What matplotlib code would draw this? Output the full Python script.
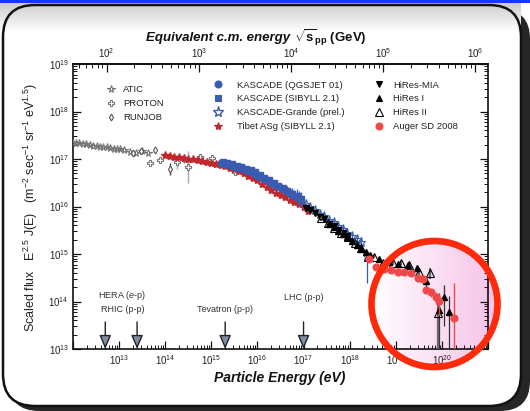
import numpy as np
import matplotlib
matplotlib.use("Agg")
import matplotlib.pyplot as plt
from matplotlib.patches import Circle, FancyBboxPatch, Rectangle
from matplotlib.lines import Line2D
from matplotlib.legend import Legend
from matplotlib.ticker import LogLocator, FuncFormatter, NullFormatter

plt.rcParams['font.family'] = ['Liberation Sans', 'DejaVu Sans']
plt.rcParams['mathtext.fontset'] = 'custom'
plt.rcParams['mathtext.rm'] = 'Liberation Sans'
plt.rcParams['mathtext.it'] = 'Liberation Sans:italic'
plt.rcParams['mathtext.bf'] = 'Liberation Sans:bold'
plt.rcParams['mathtext.default'] = 'regular'

# ---------------- data (log10 E [eV], log10 E^2.5 J(E)) ----------------
atic_logE = [12.00, 12.07, 12.14, 12.22, 12.29, 12.36, 12.44, 12.51, 12.58, 12.66,
             12.73, 12.80, 12.88, 12.95, 13.03, 13.10, 13.24, 13.37, 13.50, 13.63]
atic_logF = [17.34, 17.33, 17.33, 17.31, 17.31, 17.29, 17.28, 17.28, 17.26, 17.25,
             17.25, 17.23, 17.22, 17.22, 17.21, 17.19, 17.15, 17.13, 17.16, 17.13]

proton_logE = [13.67, 13.89, 14.26, 14.50, 14.76, 15.02, 15.52]
proton_logF = [16.92, 16.98, 16.94, 16.83, 17.04, 17.02, 16.73]
proton_err = [0.06, 0.05, 0.14, 0.33, 0.04, 0.04, 0.04]

runjob_logE = [13.30, 13.48, 13.78, 14.11, 14.40]
runjob_logF = [17.13, 17.17, 17.19, 16.79, 16.99]
runjob_err = [0.03, 0.03, 0.04, 0.12, 0.05]

tibet_logE = [14.0, 14.1, 14.2, 14.3, 14.4, 14.5, 14.6, 14.7, 14.8, 14.9, 15.0,
              15.1, 15.2, 15.3, 15.4, 15.5, 15.6, 15.7, 15.8, 15.9, 16.0, 16.1,
              16.2, 16.3, 16.4, 16.5, 16.6, 16.7, 16.8, 16.9, 17.0, 17.1]
tibet_logF = [17.08, 17.07, 17.05, 17.04, 17.03, 17.01, 16.99, 16.98, 16.96, 16.94, 16.92,
              16.89, 16.87, 16.85, 16.81, 16.78, 16.74, 16.70, 16.65, 16.60, 16.55, 16.48,
              16.41, 16.35, 16.29, 16.24, 16.19, 16.14, 16.09, 16.05, 16.00, 15.91]

kq_logE = [15.2, 15.3, 15.4, 15.5, 15.6, 15.7, 15.8, 15.9, 16.0, 16.1, 16.2, 16.3,
           16.4, 16.5, 16.6, 16.7, 16.8, 16.9]
kq_logF = [16.92, 16.90, 16.87, 16.84, 16.81, 16.78, 16.74, 16.70, 16.65, 16.60, 16.55, 16.49,
           16.44, 16.39, 16.34, 16.28, 16.23, 16.18]
kq_err = [0.02, 0.02, 0.02, 0.02, 0.02, 0.02, 0.03, 0.03, 0.03, 0.04, 0.04, 0.05,
          0.06, 0.07, 0.08, 0.10, 0.12, 0.15]

ks_logE = [15.25, 15.35, 15.45, 15.55, 15.65, 15.75, 15.85, 15.95, 16.05, 16.15, 16.25, 16.35,
           16.45, 16.55, 16.65, 16.75, 16.85, 16.95]
ks_logF = [16.94, 16.92, 16.89, 16.86, 16.83, 16.79, 16.76, 16.72, 16.66, 16.60, 16.55, 16.49,
           16.43, 16.38, 16.33, 16.27, 16.22, 16.15]
ks_err = [0.02, 0.02, 0.02, 0.02, 0.02, 0.03, 0.03, 0.03, 0.04, 0.04, 0.05, 0.05,
          0.06, 0.08, 0.10, 0.12, 0.14, 0.16]

grande_logE = [16.95, 17.05, 17.15, 17.25, 17.35, 17.45, 17.55, 17.65, 17.75, 17.85,
               17.95, 18.05, 18.15, 18.25, 18.38]
grande_logF = [16.10, 16.05, 15.98, 15.92, 15.85, 15.80, 15.72, 15.67, 15.59, 15.53,
               15.45, 15.37, 15.31, 15.25, 14.96]
grande_err_up = [0.03, 0.03, 0.03, 0.03, 0.03, 0.04, 0.04, 0.04, 0.05, 0.05,
                 0.06, 0.07, 0.08, 0.10, 0.05]
grande_err_dn = [0.03, 0.03, 0.03, 0.03, 0.03, 0.04, 0.04, 0.04, 0.05, 0.05,
                 0.06, 0.07, 0.08, 0.10, 0.58]

mia_logE = [17.05, 17.15, 17.25, 17.35, 17.45, 17.55, 17.65, 17.75, 17.85, 17.95]
mia_logF = [15.97, 15.92, 15.87, 15.78, 15.73, 15.64, 15.59, 15.50, 15.45, 15.37]

hires1_logE = [17.55, 17.65, 17.75, 17.85, 17.95, 18.05, 18.15, 18.25, 18.35, 18.45,
               18.63, 18.85, 19.05, 19.26, 19.45, 19.65, 19.93, 20.04, 20.15]
hires1_logF = [15.63, 15.57, 15.49, 15.43, 15.35, 15.27, 15.18, 15.11, 15.04, 14.97,
               14.89, 14.84, 14.80, 14.77, 14.70, 14.43, 13.82, 14.09, 13.77]
hires1_err_up = [0.02, 0.02, 0.02, 0.02, 0.02, 0.02, 0.02, 0.02, 0.03, 0.03,
                 0.03, 0.03, 0.04, 0.05, 0.06, 0.10, 0.35, 0.25, 0.35]
hires1_err_dn = [0.02, 0.02, 0.02, 0.02, 0.02, 0.02, 0.02, 0.02, 0.03, 0.03,
                 0.03, 0.03, 0.04, 0.05, 0.06, 0.12, 0.90, 0.60, 0.90]

hires2_logE = [17.37, 17.52, 17.67, 17.82, 17.97, 18.12, 18.25, 18.39, 18.52, 18.72,
               18.93, 19.11, 19.28, 19.50, 19.74, 19.91]
hires2_logF = [15.76, 15.66, 15.55, 15.45, 15.36, 15.24, 15.12, 14.94, 14.94, 14.81,
               14.81, 14.81, 14.77, 14.62, 14.60, 13.76]
hires2_err_up = [0.03, 0.03, 0.03, 0.03, 0.03, 0.03, 0.03, 0.03, 0.03, 0.03,
                 0.04, 0.04, 0.05, 0.07, 0.10, 0.40]
hires2_err_dn = [0.03, 0.03, 0.03, 0.03, 0.03, 0.03, 0.03, 0.03, 0.03, 0.03,
                 0.04, 0.04, 0.05, 0.07, 0.12, 0.90]

auger_logE = [18.41, 18.57, 18.74, 18.89, 19.04, 19.17, 19.33, 19.48, 19.59, 19.65,
              19.76, 19.87, 19.93, 20.26]
auger_logF = [14.89, 14.73, 14.68, 14.66, 14.62, 14.62, 14.60, 14.49, 14.47, 14.24,
              14.20, 14.09, 14.01, 13.65]
auger_err_up = [0.02, 0.02, 0.02, 0.02, 0.02, 0.02, 0.03, 0.04, 0.05, 0.06,
                0.08, 0.10, 0.15, 0.74]
auger_err_dn = [0.02, 0.02, 0.02, 0.02, 0.02, 0.02, 0.03, 0.04, 0.05, 0.07,
                0.10, 0.15, 0.30, 1.20]

# accelerator equivalent energies (log10 E / eV) and label rows
accel_arrow_logE = [12.70, 13.39, 15.30, 17.00]
accel_labels = ['HERA ($\\it{e}$-p)', 'RHIC (p-p)', 'Tevatron (p-p)', 'LHC (p-p)']
accel_label_logE = [13.07, 13.07, 15.30, 17.01]
accel_label_logF = [14.12, 13.84, 13.84, 14.09]

PROTON_MASS_GEV = 0.938

# ---------------- figure ----------------
W, H = 530, 411
fig = plt.figure(figsize=(W / 100, H / 100), dpi=100)

# slide background (pixel coordinates)
bg = fig.add_axes([0, 0, 1, 1], zorder=0)
bg.set_xlim(0, W)
bg.set_ylim(H, 0)
bg.axis('off')

bg.add_patch(FancyBboxPatch((9, 9), 521, 402, boxstyle='round,pad=0,rounding_size=30',
                            fc='#262626', ec='none'))
bg.add_patch(FancyBboxPatch((3, 5), 518, 401, boxstyle='round,pad=0,rounding_size=32',
                            fc='white', ec='none'))
grad = np.linspace(0.80, 1.0, 64)[:, None] * np.ones((1, 2))
bg.imshow(np.dstack([grad, grad, grad]), extent=(0, 521, 32, 3), aspect='auto',
          interpolation='bilinear', zorder=1)
bg.add_patch(FancyBboxPatch((3, 5), 518, 401, boxstyle='round,pad=0,rounding_size=32',
                            fc='none', ec='#111111', lw=1.8, zorder=3))
bg.add_patch(Rectangle((0, 0), W, 3.5, fc='#1438f5', ec='none', zorder=4))

# pink gradient highlight behind the highest-energy region
cx, cy, cr = 434.5, 304.0, 63.0
t = np.linspace(0, 1, 128)
left_c = np.array([1.0, 1.0, 1.0])
right_c = np.array([0.97, 0.76, 0.91])
row = left_c[None, :] * (1 - t[:, None]) + right_c[None, :] * t[:, None]
img = np.repeat(row[None, :, :], 2, axis=0)
hl = bg.imshow(img, extent=(cx - cr, cx + cr, cy + cr, cy - cr), aspect='auto',
               interpolation='bilinear', zorder=2)
hl.set_clip_path(Circle((cx, cy), cr, transform=bg.transData))

# ---------------- main axes ----------------
ax = fig.add_axes([73 / W, (H - 349) / H, (488 - 73) / W, (349 - 64) / H], zorder=2)
ax.set_facecolor('none')
ax.set_xscale('log')
ax.set_yscale('log')
ax.set_xlim(1e12, 1e21)
ax.set_ylim(1e13, 1e19)


def vals(logv):
    return 10 ** np.asarray(logv, dtype=float)


def yerr(logF, up, dn):
    F = vals(logF)
    return [F - F * 10 ** (-np.asarray(dn)), F * 10 ** np.asarray(up) - F]


grey = '#777777'
blue = '#3a5cb0'
dred = '#c0282d'
ared = '#f04848'

ax.plot(vals(atic_logE), vals(atic_logF), ls='none', marker='*', ms=5.5, mfc='none',
        mec=grey, mew=0.8, zorder=4)
ax.errorbar(vals(proton_logE), vals(proton_logF),
            yerr=yerr(proton_logF, proton_err, proton_err),
            xerr=[vals(proton_logE) * (1 - 10 ** -0.06), vals(proton_logE) * (10 ** 0.06 - 1)],
            fmt='P', ms=4.5, mfc='white', mec=grey, mew=0.8, ecolor='#aaaaaa',
            elinewidth=1.0, capsize=0, zorder=4)
ax.errorbar(vals(runjob_logE), vals(runjob_logF),
            yerr=yerr(runjob_logF, runjob_err, runjob_err),
            fmt='d', ms=3.5, mfc='white', mec='#555555', mew=0.8, ecolor='#444444',
            elinewidth=1.0, capsize=0, zorder=4)
ax.errorbar(vals(tibet_logE), vals(tibet_logF), yerr=yerr(tibet_logF, [0.02] * 32, [0.02] * 32),
            fmt='*', ms=6, mfc=dred, mec=dred, ecolor=dred, elinewidth=0.8, capsize=0, zorder=5)
ax.errorbar(vals(kq_logE), vals(kq_logF), yerr=yerr(kq_logF, kq_err, kq_err),
            fmt='o', ms=4.8, mfc=blue, mec=blue, ecolor=blue, elinewidth=0.9, capsize=0, zorder=5)
ax.errorbar(vals(ks_logE), vals(ks_logF), yerr=yerr(ks_logF, ks_err, ks_err),
            fmt='s', ms=4.5, mfc=blue, mec=blue, ecolor=blue, elinewidth=0.9, capsize=0, zorder=5)
ax.errorbar(vals(grande_logE), vals(grande_logF),
            yerr=yerr(grande_logF, grande_err_up, grande_err_dn),
            fmt='*', ms=6.5, mfc='none', mec=blue, mew=0.8, ecolor=blue,
            elinewidth=0.9, capsize=0, zorder=5)
ax.plot(vals(mia_logE), vals(mia_logF), ls='none', marker='v', ms=4.2, color='black', zorder=6)
ax.errorbar(vals(hires1_logE), vals(hires1_logF),
            yerr=yerr(hires1_logF, hires1_err_up, hires1_err_dn),
            fmt='^', ms=4.2, mfc='black', mec='black', ecolor='#333333',
            elinewidth=0.9, capsize=0, zorder=6)
ax.errorbar(vals(hires2_logE), vals(hires2_logF),
            yerr=yerr(hires2_logF, hires2_err_up, hires2_err_dn),
            fmt='^', ms=5.5, mfc='none', mec='black', mew=0.8, ecolor='#666666',
            elinewidth=1.6, capsize=0, zorder=6)
ax.errorbar(vals(auger_logE), vals(auger_logF),
            yerr=yerr(auger_logF, auger_err_up, auger_err_dn),
            fmt='o', ms=4.8, mfc=ared, mec=ared, ecolor=ared, elinewidth=1.0,
            capsize=0, zorder=7)

# accelerator arrows
for lE in accel_arrow_logE:
    ax.annotate('', xy=(10 ** lE, 1e13), xytext=(10 ** lE, 10 ** 13.57),
                arrowprops=dict(arrowstyle='-|>,head_length=0.7,head_width=0.3',
                                fc='#7d8ea6', ec='#222222', lw=1.0,
                                shrinkA=0, shrinkB=0, mutation_scale=12),
                annotation_clip=False, zorder=6)
for lab, lE, lF in zip(accel_labels, accel_label_logE, accel_label_logF):
    ax.text(10 ** lE, 10 ** lF, lab, ha='center', va='center', fontsize=6.5,
            color='#333333', zorder=6)


# ticks
def exp_fmt(lo, hi):
    def f(v, pos):
        e = int(round(np.log10(v)))
        return rf'$10^{{{e}}}$' if lo <= e <= hi else ''
    return FuncFormatter(f)


ax.xaxis.set_major_locator(LogLocator(base=10, numticks=20))
ax.xaxis.set_minor_locator(LogLocator(base=10, subs=np.arange(2, 10), numticks=20))
ax.xaxis.set_major_formatter(exp_fmt(13, 20))
ax.xaxis.set_minor_formatter(NullFormatter())
ax.yaxis.set_major_locator(LogLocator(base=10, numticks=20))
ax.yaxis.set_minor_locator(LogLocator(base=10, subs=np.arange(2, 10), numticks=20))
ax.yaxis.set_major_formatter(exp_fmt(13, 19))
ax.yaxis.set_minor_formatter(NullFormatter())
ax.tick_params(which='both', direction='in', right=True, top=False, color='#111111')
ax.tick_params(which='major', length=6, width=0.9, labelsize=7, pad=3, labelcolor='#222222')
ax.tick_params(which='minor', length=3.2, width=0.7)
for s in ax.spines.values():
    s.set_linewidth(1.2)
    s.set_color('#111111')


def to_sqrts(E):
    E = np.clip(np.asarray(E, dtype=float), 1e-30, None)
    return np.sqrt(2 * PROTON_MASS_GEV * E / 1e9)


def from_sqrts(s):
    s = np.asarray(s, dtype=float)
    return s ** 2 * 1e9 / (2 * PROTON_MASS_GEV)


secax = ax.secondary_xaxis('top', functions=(to_sqrts, from_sqrts))
secax.xaxis.set_major_locator(LogLocator(base=10, numticks=20))
secax.xaxis.set_minor_locator(LogLocator(base=10, subs=np.arange(2, 10), numticks=20))
secax.xaxis.set_major_formatter(exp_fmt(2, 6))
secax.xaxis.set_minor_formatter(NullFormatter())
secax.tick_params(which='both', direction='in', color='#111111')
secax.tick_params(which='major', length=6, width=0.9, labelsize=7, pad=3, labelcolor='#222222')
secax.tick_params(which='minor', length=3.2, width=0.7)
secax.spines['top'].set_linewidth(1.2)


# legends
def proxy(marker, ms, fc, ec, mew=0.8):
    return Line2D([], [], ls='none', marker=marker, ms=ms, mfc=fc, mec=ec, mew=mew)


def add_legend(handles, labels, x_px, y_px, pad):
    leg = Legend(ax, handles, labels, loc='upper left',
                 bbox_to_anchor=(x_px / W, 1 - y_px / H), bbox_transform=fig.transFigure,
                 frameon=False, fontsize=6.8, handlelength=1.0, handletextpad=pad,
                 labelspacing=0.52, borderpad=0, borderaxespad=0, numpoints=1)
    for txt in leg.get_texts():
        txt.set_color('#222222')
    ax.add_artist(leg)


add_legend([proxy('*', 5.5, 'none', grey), proxy('P', 4.5, 'white', grey),
            proxy('d', 3.5, 'white', '#555555')],
           ['ATIC', 'PROTON', 'RUNJOB'], 106.3, 85.0, 0.8)
add_legend([proxy('o', 5, blue, blue), proxy('s', 4.5, blue, blue),
            proxy('*', 8, 'none', blue, 1.0), proxy('*', 6, dred, dred)],
           ['KASCADE (QGSJET 01)', 'KASCADE (SIBYLL 2.1)', 'KASCADE-Grande (prel.)',
            'Tibet ASg (SIBYLL 2.1)'], 213.3, 80.5, 1.5)
add_legend([proxy('v', 4.5, 'black', 'black'), proxy('^', 4.5, 'black', 'black'),
            proxy('^', 5.5, 'none', 'black'), proxy('o', 5, ared, ared)],
           ['HiRes-MIA', 'HiRes I', 'HiRes II', 'Auger SD 2008'], 374.3, 80.5, 1.0)

# axis titles
fig.text(31 / W, 1 - 208 / H,
         'Scaled flux   E$^{2.5}$ J(E)   (m$^{-2}$ sec$^{-1}$ sr$^{-1}$ eV$^{1.5}$)',
         rotation=90, ha='center', va='center', fontsize=9, color='#222222')
fig.text(280 / W, 1 - 378 / H, 'Particle Energy (eV)', ha='center', va='center',
         fontsize=10, fontweight='bold', fontstyle='italic', color='#111111')
fig.text(294 / W, 1 - 38 / H, 'Equivalent c.m. energy ', ha='right', va='center',
         fontsize=9.5, fontweight='bold', fontstyle='italic', color='#111111')
fig.text(294 / W, 1 - 38 / H, r'$\sqrt{\mathbf{s}}_{\mathbf{pp}}$ (GeV)', ha='left',
         va='center', fontsize=9.5, fontweight='bold', color='#111111')

# highlight ring on top
ov = fig.add_axes([0, 0, 1, 1], zorder=10)
ov.set_xlim(0, W)
ov.set_ylim(H, 0)
ov.axis('off')
ov.add_patch(Circle((cx, cy), cr, fill=False, ec='#ff2a0a', lw=4.8))

fig.savefig('out.png', dpi=100)
